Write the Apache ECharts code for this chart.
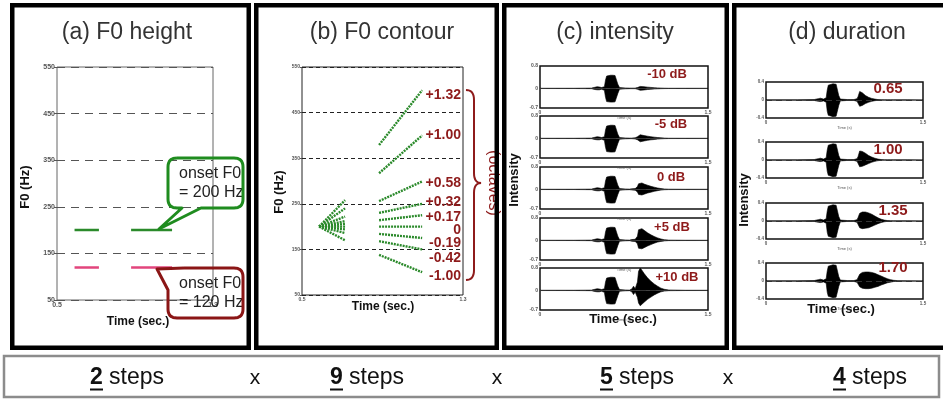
<!DOCTYPE html>
<html>
<head>
<meta charset="utf-8">
<script src="https://cdn.jsdelivr.net/npm/echarts@6/dist/echarts.min.js"></script>
<style>
html, body { margin: 0; padding: 0; background: #fff; }
#main { width: 943px; height: 401px; }
</style>
</head>
<body>
<div id="main"></div>
<script>
// (a) F0 height: two syllables, two onset levels
var heightTime1 = [0.59, 0.715];
var heightTime2 = [0.88, 1.09];
var onsetHigh = [200, 200];
var onsetLow = [120, 120];

// (b) F0 contour: 9 glides, all starting at 200 Hz
var contourLabels = ['+1.32', '+1.00', '+0.58', '+0.32', '+0.17', '0', '-0.19', '-0.42', '-1.00'];
var fanTime1 = [0.585, 0.714];
var fanTime2 = [0.883, 1.097];
var fanStart = 200;
var fanMid = [258, 240, 222, 212, 206, 200, 194, 186, 170];
var fanRise = [379, 317, 256, 230, 214, 200, 184, 168, 138];
var fanEnd = [499, 400, 299, 250, 225, 200, 175, 150, 100];

// (c) intensity: waveform envelopes
var intLabels = ['-10 dB', '-5 dB', '0 dB', '+5 dB', '+10 dB'];
var waveTime = [0, 0.3, 0.46, 0.49, 0.51, 0.53, 0.55, 0.575, 0.585, 0.595,
  0.61, 0.63, 0.65, 0.67, 0.685, 0.695, 0.71, 0.76, 0.8, 0.82,
  0.835, 0.85, 0.87, 0.88, 0.895, 0.91, 0.93, 0.96, 0.99, 1.02,
  1.05, 1.08, 1.11, 1.15, 1.3, 1.5];
var intUpper = [
  [0.005, 0.005, 0.01, 0.04, 0.06, 0.05, 0.03, 0.06, 0.3, 0.44, 0.46, 0.47, 0.47, 0.46, 0.43, 0.15, 0.03, 0.015, 0.01, 0.01,
   0.02, 0.01, 0.03, 0.06, 0.07, 0.07, 0.06, 0.045, 0.035, 0.025, 0.018, 0.012, 0.008, 0.005, 0.005, 0.005],
  [0.005, 0.005, 0.01, 0.04, 0.06, 0.05, 0.03, 0.06, 0.3, 0.44, 0.46, 0.47, 0.47, 0.46, 0.43, 0.15, 0.03, 0.015, 0.01, 0.01,
   0.03, 0.02, 0.06, 0.11, 0.13, 0.12, 0.1, 0.08, 0.06, 0.045, 0.03, 0.02, 0.012, 0.006, 0.005, 0.005],
  [0.005, 0.005, 0.01, 0.04, 0.06, 0.05, 0.03, 0.06, 0.3, 0.44, 0.46, 0.47, 0.47, 0.46, 0.43, 0.15, 0.03, 0.015, 0.01, 0.02,
   0.05, 0.03, 0.1, 0.2, 0.24, 0.23, 0.19, 0.15, 0.11, 0.08, 0.05, 0.03, 0.015, 0.008, 0.005, 0.005],
  [0.005, 0.005, 0.01, 0.04, 0.06, 0.05, 0.03, 0.06, 0.3, 0.44, 0.46, 0.47, 0.47, 0.46, 0.43, 0.15, 0.03, 0.015, 0.01, 0.03,
   0.1, 0.04, 0.15, 0.38, 0.45, 0.42, 0.36, 0.27, 0.2, 0.14, 0.09, 0.05, 0.025, 0.01, 0.005, 0.005],
  [0.005, 0.005, 0.01, 0.04, 0.06, 0.05, 0.03, 0.06, 0.3, 0.44, 0.46, 0.47, 0.47, 0.46, 0.43, 0.15, 0.03, 0.015, 0.01, 0.05,
   0.15, 0.06, 0.3, 0.68, 0.8, 0.72, 0.6, 0.45, 0.33, 0.23, 0.15, 0.08, 0.04, 0.015, 0.005, 0.005]
];
var intLower = [
  [-0.005, -0.005, -0.01, -0.04, -0.05, -0.05, -0.03, -0.07, -0.32, -0.47, -0.48, -0.49, -0.49, -0.48, -0.45, -0.18, -0.03, -0.015, -0.01, -0.01,
   -0.02, -0.01, -0.03, -0.06, -0.07, -0.065, -0.055, -0.04, -0.03, -0.02, -0.015, -0.01, -0.007, -0.005, -0.005, -0.005],
  [-0.005, -0.005, -0.01, -0.04, -0.05, -0.05, -0.03, -0.07, -0.32, -0.47, -0.48, -0.49, -0.49, -0.48, -0.45, -0.18, -0.03, -0.015, -0.01, -0.01,
   -0.03, -0.02, -0.05, -0.1, -0.12, -0.11, -0.09, -0.07, -0.05, -0.04, -0.025, -0.015, -0.01, -0.006, -0.005, -0.005],
  [-0.005, -0.005, -0.01, -0.04, -0.05, -0.05, -0.03, -0.07, -0.32, -0.47, -0.48, -0.49, -0.49, -0.48, -0.45, -0.18, -0.03, -0.015, -0.01, -0.02,
   -0.05, -0.03, -0.09, -0.18, -0.22, -0.2, -0.17, -0.13, -0.1, -0.07, -0.045, -0.025, -0.012, -0.007, -0.005, -0.005],
  [-0.005, -0.005, -0.01, -0.04, -0.05, -0.05, -0.03, -0.07, -0.32, -0.47, -0.48, -0.49, -0.49, -0.48, -0.45, -0.18, -0.03, -0.015, -0.01, -0.03,
   -0.1, -0.04, -0.12, -0.28, -0.32, -0.3, -0.26, -0.2, -0.15, -0.1, -0.06, -0.035, -0.018, -0.008, -0.005, -0.005],
  [-0.005, -0.005, -0.01, -0.04, -0.05, -0.05, -0.03, -0.07, -0.32, -0.47, -0.48, -0.49, -0.49, -0.48, -0.45, -0.18, -0.03, -0.015, -0.01, -0.05,
   -0.15, -0.06, -0.25, -0.45, -0.55, -0.5, -0.42, -0.32, -0.24, -0.16, -0.1, -0.05, -0.025, -0.01, -0.005, -0.005]
];

// (d) duration: waveform envelopes
var durLabels = ['0.65', '1.00', '1.35', '1.70'];
var durTime = [0, 0.3, 0.46, 0.5, 0.52, 0.55, 0.575, 0.585, 0.595, 0.61,
  0.64, 0.67, 0.685, 0.695, 0.71, 0.78, 0.81, 0.825, 0.84, 0.87,
  0.88, 0.895, 0.92, 0.95, 0.98, 1.01, 1.04, 1.07, 1.1, 1.13,
  1.16, 1.19, 1.22, 1.26, 1.35, 1.5];
var durUpper = [
  [0.004, 0.004, 0.01, 0.03, 0.04, 0.02, 0.05, 0.22, 0.33, 0.35, 0.36, 0.35, 0.33, 0.1, 0.02, 0.01, 0.01, 0.03, 0.01, 0.03,
   0.08, 0.19, 0.16, 0.1, 0.06, 0.035, 0.02, 0.01, 0.006, 0.004, 0.004, 0.004, 0.004, 0.004, 0.004, 0.004],
  [0.004, 0.004, 0.01, 0.03, 0.04, 0.02, 0.05, 0.22, 0.33, 0.35, 0.36, 0.35, 0.33, 0.1, 0.02, 0.01, 0.01, 0.03, 0.01, 0.03,
   0.08, 0.2, 0.19, 0.15, 0.1, 0.065, 0.04, 0.02, 0.01, 0.005, 0.004, 0.004, 0.004, 0.004, 0.004, 0.004],
  [0.004, 0.004, 0.01, 0.03, 0.04, 0.02, 0.05, 0.22, 0.33, 0.35, 0.36, 0.35, 0.33, 0.1, 0.02, 0.01, 0.01, 0.03, 0.01, 0.03,
   0.08, 0.17, 0.2, 0.2, 0.18, 0.15, 0.11, 0.07, 0.04, 0.02, 0.01, 0.005, 0.004, 0.004, 0.004, 0.004],
  [0.004, 0.004, 0.01, 0.03, 0.04, 0.02, 0.05, 0.22, 0.33, 0.35, 0.36, 0.35, 0.33, 0.1, 0.02, 0.01, 0.01, 0.03, 0.01, 0.03,
   0.08, 0.15, 0.19, 0.2, 0.2, 0.19, 0.17, 0.14, 0.11, 0.08, 0.05, 0.03, 0.015, 0.008, 0.004, 0.004]
];
var durLower = [
  [-0.004, -0.004, -0.01, -0.03, -0.035, -0.02, -0.05, -0.25, -0.34, -0.36, -0.37, -0.36, -0.34, -0.12, -0.02, -0.01, -0.01, -0.03, -0.01, -0.03,
   -0.07, -0.14, -0.12, -0.08, -0.05, -0.03, -0.015, -0.008, -0.005, -0.004, -0.004, -0.004, -0.004, -0.004, -0.004, -0.004],
  [-0.004, -0.004, -0.01, -0.03, -0.035, -0.02, -0.05, -0.25, -0.34, -0.36, -0.37, -0.36, -0.34, -0.12, -0.02, -0.01, -0.01, -0.03, -0.01, -0.03,
   -0.07, -0.15, -0.14, -0.11, -0.08, -0.05, -0.03, -0.015, -0.008, -0.005, -0.004, -0.004, -0.004, -0.004, -0.004, -0.004],
  [-0.004, -0.004, -0.01, -0.03, -0.035, -0.02, -0.05, -0.25, -0.34, -0.36, -0.37, -0.36, -0.34, -0.12, -0.02, -0.01, -0.01, -0.03, -0.01, -0.03,
   -0.07, -0.15, -0.17, -0.16, -0.15, -0.12, -0.09, -0.06, -0.035, -0.018, -0.008, -0.004, -0.004, -0.004, -0.004, -0.004],
  [-0.004, -0.004, -0.01, -0.03, -0.035, -0.02, -0.05, -0.25, -0.34, -0.36, -0.37, -0.36, -0.34, -0.12, -0.02, -0.01, -0.01, -0.03, -0.01, -0.03,
   -0.07, -0.13, -0.16, -0.17, -0.17, -0.16, -0.14, -0.12, -0.09, -0.065, -0.04, -0.025, -0.012, -0.006, -0.004, -0.004]
];

// bottom strip
var stepCounts = ['2', '9', '5', '4'];

var FONT = '"Liberation Sans", Arial, sans-serif';
var RED = '#8e1b1b';
var GREEN = '#2b8a2b';
var PINK = '#e2457c';

var chart = echarts.init(document.getElementById('main'));

var grids = [], xAxes = [], yAxes = [], series = [], graphic = [];

function zip(xs, ys) {
  var out = [];
  for (var i = 0; i < xs.length; i++) out.push([xs[i], ys[i]]);
  return out;
}

function addGrid(rect, x, y) {
  var idx = grids.length;
  grids.push(rect);
  x.gridIndex = idx;
  y.gridIndex = idx;
  xAxes.push(x);
  yAxes.push(y);
  return idx;
}

function txt(x, y, s, size, o) {
  o = o || {};
  graphic.push({
    type: 'text', x: x, y: y, rotation: o.rot || 0, z: o.z || 10,
    style: {
      text: s, fontSize: size, fontFamily: FONT, fontWeight: o.bold ? 'bold' : 'normal',
      fill: o.color || '#111', align: o.align || 'center', verticalAlign: 'middle'
    }
  });
}

// points of a quadratic curve, for rounded corners and the brace
function quad(x0, y0, cx, cy, x1, y1) {
  var pts = [];
  for (var i = 0; i <= 8; i++) {
    var t = i / 8, u = 1 - t;
    pts.push([u * u * x0 + 2 * u * t * cx + t * t * x1, u * u * y0 + 2 * u * t * cy + t * t * y1]);
  }
  return pts;
}

function outline(parts, color) {
  var pts = [];
  parts.forEach(function (p) { pts = pts.concat(p); });
  graphic.push({ type: 'polyline', z: 12, shape: { points: pts },
    style: { fill: null, stroke: color, lineWidth: 3, lineJoin: 'round' } });
}

function tinyLabel(size) {
  return { fontSize: size, fontWeight: 'bold', color: '#555', margin: 2, fontFamily: FONT };
}

// ---------- panel (a)
var ga = addGrid({ left: 57, top: 67, width: 156, height: 233, show: true, borderColor: '#666', borderWidth: 1 },
  { type: 'value', min: 0.5, max: 1.3, interval: 0.8, axisLine: { show: false }, axisTick: { show: false },
    splitLine: { show: false }, axisLabel: Object.assign(tinyLabel(7), { formatter: function (v) { return v.toFixed(1); } }) },
  { type: 'value', min: 50, max: 550, interval: 100, axisLine: { show: false },
    axisTick: { show: true, length: 3, lineStyle: { color: '#555' } },
    splitLine: { show: true, lineStyle: { type: [8, 6], color: '#555', width: 1 } },
    axisLabel: tinyLabel(7) });

[[heightTime1, onsetHigh, GREEN], [heightTime2, onsetHigh, GREEN],
 [heightTime1, onsetLow, PINK], [heightTime2, onsetLow, PINK]].forEach(function (s) {
  series.push({ type: 'line', xAxisIndex: ga, yAxisIndex: ga, data: zip(s[0], s[1]), symbol: 'none',
    lineStyle: { color: s[2], width: 2.5 } });
});

// ---------- panel (b)
var gb = addGrid({ left: 302, top: 67, width: 161, height: 228, show: true, borderColor: '#222', borderWidth: 1 },
  { type: 'value', min: 0.5, max: 1.3, interval: 0.8, axisLine: { show: false }, axisTick: { show: false },
    splitLine: { show: false }, axisLabel: Object.assign(tinyLabel(5), { formatter: function (v) { return v.toFixed(1); } }) },
  { type: 'value', min: 50, max: 550, interval: 100, axisLine: { show: false },
    axisTick: { show: true, length: 2, lineStyle: { color: '#555' } },
    splitLine: { show: true, lineStyle: { type: [4, 3], color: '#222', width: 1 } },
    axisLabel: tinyLabel(5) });

for (var i = 0; i < fanEnd.length; i++) {
  series.push({ type: 'line', xAxisIndex: gb, yAxisIndex: gb, symbol: 'none',
    data: [[fanTime1[0], fanStart], [fanTime1[1], fanMid[i]]],
    lineStyle: { color: GREEN, width: 2.4, type: [2, 1] } });
  series.push({ type: 'line', xAxisIndex: gb, yAxisIndex: gb, symbol: 'none',
    data: [[fanTime2[0], fanRise[i]], [fanTime2[1], fanEnd[i]]],
    lineStyle: { color: GREEN, width: 2.4, type: [2, 1] } });
}

// ---------- panels (c) and (d): stacked waveform plots
function wavePlot(rect, ymin, ymax, yint, labelSize, time, up, lo) {
  var g = addGrid(Object.assign({ show: true, borderColor: '#111', borderWidth: 1.5 }, rect),
    { type: 'value', min: 0, max: 1.5, interval: 1.5, axisLine: { show: false }, axisTick: { show: false },
      splitLine: { show: false }, axisLabel: tinyLabel(labelSize),
      name: 'Time (s)', nameLocation: 'middle', nameGap: 6,
      nameTextStyle: { fontSize: 4, color: '#555', fontFamily: FONT } },
    { type: 'value', min: ymin, max: ymax, interval: yint, axisLine: { show: false }, axisTick: { show: false },
      splitLine: { show: false },
      axisLabel: Object.assign(tinyLabel(labelSize), {
        formatter: function (v) {
          var r = Math.round(v * 10) / 10;
          if (r === ymax || r === ymin) return String(r);
          if (r === 0) return '0';
          return '';
        }
      }) });
  series.push({ type: 'line', xAxisIndex: g, yAxisIndex: g, data: zip(time, up), symbol: 'none',
    lineStyle: { color: '#000', width: 0.6 }, areaStyle: { color: '#000', opacity: 1 },
    markLine: { silent: true, symbol: ['none', 'none'], label: { show: false },
      lineStyle: { color: '#333', type: [6, 4], width: 1 }, data: [{ yAxis: 0 }] } });
  series.push({ type: 'line', xAxisIndex: g, yAxisIndex: g, data: zip(time, lo), symbol: 'none',
    lineStyle: { color: '#000', width: 0.6 }, areaStyle: { color: '#000', opacity: 1 } });
}

var cTops = [66, 116, 167, 218, 268];
for (var k = 0; k < intUpper.length; k++) {
  wavePlot({ left: 540, top: cTops[k], width: 168, height: 42 }, -0.7, 0.8, 0.1, 5, waveTime, intUpper[k], intLower[k]);
}
var dTops = [82, 142, 203, 263];
for (var k = 0; k < durUpper.length; k++) {
  wavePlot({ left: 766, top: dTops[k], width: 157, height: 36 }, -0.4, 0.4, 0.4, 4.5, durTime, durUpper[k], durLower[k]);
}

// ---------- titles and axis names
txt(127, 33, '(a) F0 height', 23, { color: '#333' });
txt(382, 33, '(b) F0 contour', 23, { color: '#333' });
txt(615, 33, '(c) intensity', 23, { color: '#333' });
txt(847, 33, '(d) duration', 23, { color: '#333' });

txt(25, 187, 'F0 (Hz)', 13, { bold: true, rot: Math.PI / 2 });
txt(138, 322, 'Time (sec.)', 12, { bold: true });
txt(279, 192, 'F0 (Hz)', 13, { bold: true, rot: Math.PI / 2 });
txt(383, 307, 'Time (sec.)', 12, { bold: true });
txt(514, 180, 'Intensity', 13, { bold: true, rot: Math.PI / 2 });
txt(623, 319, 'Time (sec.)', 13, { bold: true });
txt(744, 200, 'Intensity', 13, { bold: true, rot: Math.PI / 2 });
txt(841, 309, 'Time (sec.)', 13, { bold: true });

// ---------- callouts in (a)
outline([
  [[177, 158], [234, 158]], quad(234, 158, 243, 158, 243, 167), [[243, 199]],
  quad(243, 199, 243, 208, 234, 208), [[201, 208], [159, 229], [182, 208], [177, 208]],
  quad(177, 208, 168, 208, 168, 199), [[168, 167]], quad(168, 167, 168, 158, 177, 158)
], '#1f8c1f');
txt(179, 174, 'onset F0', 16, { align: 'left', color: '#222' });
txt(179, 193, '= 200 Hz', 16, { align: 'left', color: '#222' });

outline([
  [[184, 268], [234, 268]], quad(234, 268, 243, 268, 243, 277), [[243, 309]],
  quad(243, 309, 243, 318, 234, 318), [[177, 318]], quad(177, 318, 168, 318, 168, 309),
  [[168, 290], [157, 269], [184, 268]]
], '#8b1616');
txt(179, 284, 'onset F0', 16, { align: 'left', color: '#222' });
txt(179, 303, '= 120 Hz', 16, { align: 'left', color: '#222' });

// ---------- octave labels and brace in (b)
var octaveY = [95, 135, 183, 202, 217, 230, 243, 258, 276];
for (var i = 0; i < contourLabels.length; i++) {
  txt(461, octaveY[i], contourLabels[i], 14, { bold: true, color: RED, align: 'right' });
}
graphic.push({ type: 'polyline', z: 12, shape: {
  points: [].concat(quad(466, 90, 474, 90, 474, 100), [[474, 173]], quad(474, 173, 474, 183, 481, 183),
    quad(481, 183, 474, 183, 474, 193), [[474, 270]], quad(474, 270, 474, 280, 466, 280)) },
  style: { fill: null, stroke: RED, lineWidth: 2 } });
txt(493, 183, '(octaves)', 16, { color: RED, rot: -Math.PI / 2 });

// ---------- labels in (c) and (d)
var intLabelPos = [[667, 74], [671, 124], [671, 177], [672, 227], [677, 277]];
for (var i = 0; i < intLabels.length; i++) {
  txt(intLabelPos[i][0], intLabelPos[i][1], intLabels[i], 13, { bold: true, color: RED });
}
var durLabelPos = [[888, 89], [888, 150], [893, 211], [893, 268]];
for (var i = 0; i < durLabels.length; i++) {
  txt(durLabelPos[i][0], durLabelPos[i][1], durLabels[i], 15, { bold: true, color: RED });
}

// ---------- panel frames
[[10, 251], [254, 499], [502, 729], [732, 948]].forEach(function (p) {
  graphic.push({ type: 'rect', z: 50, shape: { x: p[0] + 2.25, y: 5.25, width: p[1] - p[0] - 4.5, height: 342.5 },
    style: { fill: null, stroke: '#000', lineWidth: 4.5 } });
});

// ---------- bottom strip
graphic.push({ type: 'rect', z: 50, shape: { x: 4, y: 356, width: 935, height: 41 },
  style: { fill: null, stroke: '#8c8c8c', lineWidth: 2.5 } });
var stepX = [90, 330, 600, 833];
for (var i = 0; i < stepCounts.length; i++) {
  txt(stepX[i], 378, stepCounts[i], 23, { bold: true, align: 'left' });
  graphic.push({ type: 'line', z: 10, shape: { x1: stepX[i], y1: 389.5, x2: stepX[i] + 13, y2: 389.5 },
    style: { stroke: '#111', lineWidth: 2 } });
  txt(stepX[i] + 19, 378, 'steps', 23, { align: 'left' });
}
[255, 497, 728].forEach(function (x) { txt(x, 378, 'x', 21); });

chart.setOption({
  animation: false,
  backgroundColor: '#fff',
  grid: grids,
  xAxis: xAxes,
  yAxis: yAxes,
  series: series,
  graphic: graphic
});
</script>
</body>
</html>
